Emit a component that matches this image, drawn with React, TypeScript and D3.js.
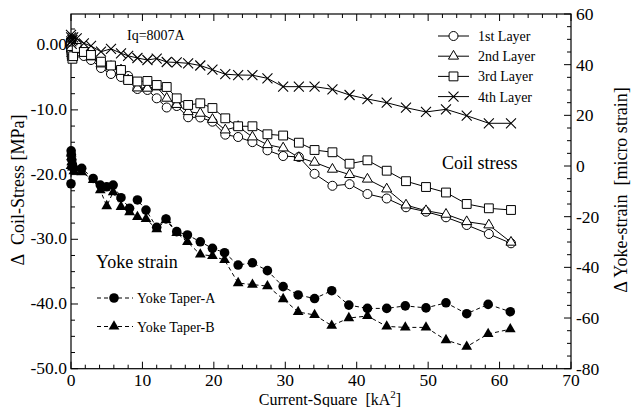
import React from 'react';
import * as d3 from 'd3';

// current squared [kA^2] at each coil-stress reading
const coilX = [0, 0.02, 0.05, 0.1, 0.2, 0.3, 0.8, 1.8, 2.8, 4.2, 5.6, 7.0, 8.0, 9.3, 10.7, 12.0, 13.4, 14.8, 16.4, 18.1, 19.8, 21.6, 23.4, 25.4, 27.5, 29.7, 31.9, 34.1, 36.6, 39.0, 41.5, 44.2, 46.9, 49.7, 52.5, 55.4, 58.5, 61.6];
const layer1 = [0.8, 0.2, -0.4, -1.0, -1.6, -1.2, -1.05, -1.67, -2.29, -3.52, -4.45, -4.91, -4.76, -6.77, -6.92, -8.21, -9.63, -9.40, -11.14, -11.17, -11.82, -13.83, -14.19, -14.98, -16.25, -17.13, -17.28, -19.88, -21.73, -21.48, -23.0, -23.69, -25.05, -25.73, -26.60, -27.79, -29.18, -30.62];
const layer2 = [0.6, 0.0, -0.6, -1.3, -1.9, -1.5, -0.74, -1.21, -1.82, -2.91, -3.29, -3.83, -5.38, -6.62, -6.66, -6.46, -8.21, -9.17, -10.28, -10.53, -11.48, -13.11, -12.57, -14.19, -15.38, -15.89, -17.36, -18.10, -19.18, -20.0, -20.71, -22.23, -24.71, -25.58, -26.14, -27.28, -27.79, -30.46];
const layer3 = [0.4, -0.2, -0.8, -1.5, -2.1, -1.7, -0.43, -1.05, -1.51, -2.55, -3.14, -3.83, -5.38, -5.61, -5.53, -6.15, -6.46, -8.21, -9.24, -8.98, -9.71, -11.30, -12.53, -12.53, -13.77, -13.96, -15.07, -16.20, -16.55, -18.32, -17.79, -19.40, -21.02, -21.92, -22.77, -24.54, -25.21, -25.47];
const layer4 = [1.6, 1.2, 0.6, 0.2, 0.8, 1.2, 1.04, 0.29, -0.12, -1.01, -0.56, -1.25, -1.64, -1.98, -2.29, -2.06, -2.60, -2.67, -2.80, -3.14, -3.79, -4.48, -4.61, -4.64, -5.12, -6.41, -6.41, -6.41, -6.82, -7.70, -8.32, -8.89, -9.66, -10.32, -9.91, -10.90, -12.07, -12.07];

// yoke strain readings [micro strain], right axis
const yokeX = [0, 0.02, 0.05, 0.1, 0.2, 0.4, 1.5, 3.1, 4.1, 5.0, 5.9, 7.0, 8.2, 9.3, 10.5, 12.0, 13.3, 14.8, 16.3, 18.1, 19.8, 21.5, 23.4, 25.4, 27.5, 29.7, 31.8, 34.1, 36.5, 38.9, 41.5, 44.2, 46.8, 49.7, 52.5, 55.4, 58.4, 61.5];
const taperA = [-7, 6, 4.5, 2.5, 0.5, -1, -0.9, -4.9, -7.5, -8.2, -7.5, -12.5, -16.7, -13.4, -17.4, -24.2, -20.9, -25.9, -27.2, -29.9, -32.5, -34.2, -39.1, -38.2, -41.3, -47.6, -50.9, -52.3, -49.2, -54.9, -56.2, -56.2, -55.2, -56.0, -54.0, -58.3, -54.6, -57.5];
const taperB = [0, 5, 3.5, 1.5, -0.5, -2, -2.4, -5.5, -9.5, -15.8, -10.3, -16.1, -18.2, -20.1, -20.9, -24.9, -21.3, -26.4, -30.0, -34.9, -35.5, -37.1, -46.2, -46.8, -47.4, -52.5, -57.6, -58.8, -63.0, -60.0, -59.2, -63.3, -63.7, -63.7, -68.7, -71.3, -66.3, -64.4];

const xTicks = [0, 10, 20, 30, 40, 50, 60, 70];
const leftTicks = [0, -10, -20, -30, -40, -50];
const leftTickLabels = ['0.00', '-10.0', '-20.0', '-30.0', '-40.0', '-50.0'];
const rightTicks = [60, 40, 20, 0, -20, -40, -60, -80];

const W = 640, H = 407;
const L = 71, R = 571, T = 14, B = 368.7;
const FONT = '"Liberation Serif", "Times New Roman", serif';

type Marker = 'circle' | 'triangle' | 'square' | 'times' | 'dot' | 'tri';

const symPath = (m: Marker) => {
  switch (m) {
    case 'circle': return d3.symbol(d3.symbolCircle, 64)();
    case 'dot': return d3.symbol(d3.symbolCircle, 72)();
    case 'triangle': return d3.symbol(d3.symbolTriangle, 44)();
    case 'tri': return d3.symbol(d3.symbolTriangle, 50)();
    case 'square': return d3.symbol(d3.symbolSquare, 78)();
    default: return 'M-5,-5L5,5M-5,5L5,-5';
  }
};

const markStyle = (m: Marker) => {
  if (m === 'dot' || m === 'tri') return { fill: '#000', stroke: 'none' };
  if (m === 'times') return { fill: 'none', stroke: '#000', strokeWidth: 1.1 };
  return { fill: '#fff', stroke: '#000', strokeWidth: 1 };
};

export default function App() {
  const x = d3.scaleLinear().domain([0, 70]).range([L, R]);
  const yL = d3.scaleLinear().domain([-50, 4.82]).range([B, T]);
  const yR = d3.scaleLinear().domain([-80, 60]).range([B, T]);

  const coilSeries: { data: number[]; m: Marker }[] = [
    { data: layer1, m: 'circle' },
    { data: layer2, m: 'triangle' },
    { data: layer3, m: 'square' },
    { data: layer4, m: 'times' },
  ];
  const yokeSeries: { data: number[]; m: Marker }[] = [
    { data: taperA, m: 'dot' },
    { data: taperB, m: 'tri' },
  ];

  const coilLine = (vals: number[]) =>
    d3.line<number>().x((_, i) => x(coilX[i])).y(d => yL(d))(vals) || '';
  const yokeLine = (vals: number[]) =>
    d3.line<number>().x((_, i) => x(yokeX[i])).y(d => yR(d))(vals) || '';

  const xMinor = d3.range(0, 70.01, 2);
  const leftMinor = d3.range(-50, 4.8, 2.5);
  const rightMinor = d3.range(-80, 60.01, 5);

  const legendTop = [
    { label: '1st Layer', m: 'circle' as Marker },
    { label: '2nd Layer', m: 'triangle' as Marker },
    { label: '3rd Layer', m: 'square' as Marker },
    { label: '4th Layer', m: 'times' as Marker },
  ];
  const legendBottom = [
    { label: 'Yoke Taper-A', m: 'dot' as Marker },
    { label: 'Yoke Taper-B', m: 'tri' as Marker },
  ];

  return (
    <svg width={W} height={H} style={{ position: 'absolute', left: 0, top: 0, background: '#fff' }}
      fontFamily={FONT}>
      <rect x={0} y={0} width={W} height={H} fill="#fff" />

      {/* minor + major ticks, inward */}
      <g stroke="#000" strokeWidth={1}>
        {xMinor.map(v => {
          const major = v % 10 === 0;
          const len = major ? 7 : 4;
          return (
            <g key={'x' + v}>
              <line x1={x(v)} x2={x(v)} y1={B} y2={B - len} />
              <line x1={x(v)} x2={x(v)} y1={T} y2={T + len} />
            </g>
          );
        })}
        {leftMinor.map(v => {
          const major = v % 10 === 0;
          return <line key={'l' + v} x1={L} x2={L + (major ? 7 : 4)} y1={yL(v)} y2={yL(v)} />;
        })}
        {rightMinor.map(v => {
          const major = v % 20 === 0;
          return <line key={'r' + v} x1={R} x2={R - (major ? 7 : 4)} y1={yR(v)} y2={yR(v)} />;
        })}
      </g>

      <rect x={L} y={T} width={R - L} height={B - T} fill="none" stroke="#000" strokeWidth={1.2} />

      {/* tick labels */}
      <g fontSize={17.5} fill="#000">
        {xTicks.map(v => (
          <text key={'xt' + v} x={x(v)} y={385.5} textAnchor="middle">{v}</text>
        ))}
        {leftTicks.map((v, i) => (
          <text key={'lt' + v} x={67} y={yL(v) + 5} textAnchor="end">{leftTickLabels[i]}</text>
        ))}
        {rightTicks.map(v => (
          <text key={'rt' + v} x={576} y={yR(v) + 6} textAnchor="start">{v}</text>
        ))}
      </g>

      {/* axis titles */}
      <text x={330} y={405} textAnchor="middle" fontSize={16}>
        Current-Square{'\u00a0\u00a0'}[kA<tspan dy={-7} fontSize={11}>2</tspan><tspan dy={7}>]</tspan>
      </text>
      <text transform={`translate(24,190) rotate(-90)`} textAnchor="middle" fontSize={18}>
        {'\u0394\u00a0\u00a0Coil-Stress [MPa]'}
      </text>
      <text transform={`translate(627,190) rotate(-90)`} textAnchor="middle" fontSize={18}>
        {'\u0394 Yoke-strain\u00a0\u00a0[micro strain]'}
      </text>

      {/* coil stress lines & markers */}
      {coilSeries.map((s, k) => (
        <path key={'cl' + k} d={coilLine(s.data)} fill="none" stroke="#000" strokeWidth={1} />
      ))}
      {coilSeries.map((s, k) => (
        <g key={'cm' + k}>
          {s.data.map((v, i) => (
            <path key={i} d={symPath(s.m)} transform={`translate(${x(coilX[i])},${yL(v)})`} {...markStyle(s.m)} />
          ))}
        </g>
      ))}

      {/* yoke strain */}
      {yokeSeries.map((s, k) => (
        <path key={'yl' + k} d={yokeLine(s.data)} fill="none" stroke="#000" strokeWidth={1} strokeDasharray="4,3" />
      ))}
      {yokeSeries.map((s, k) => (
        <g key={'ym' + k}>
          {s.data.map((v, i) => (
            <path key={i} d={symPath(s.m)} transform={`translate(${x(yokeX[i])},${yR(v)})`} {...markStyle(s.m)} />
          ))}
        </g>
      ))}

      {/* annotations */}
      <text x={127} y={40} fontSize={14}>Iq=8007A</text>
      <text x={442} y={169} fontSize={18}>Coil stress</text>
      <text x={96} y={268} fontSize={18}>Yoke strain</text>

      {/* legend, top right */}
      {legendTop.map((d, i) => {
        const cy = 36 + i * 20.2;
        return (
          <g key={'lg' + i}>
            <line x1={438} x2={469} y1={cy} y2={cy} stroke="#000" strokeWidth={1} />
            <path d={symPath(d.m)} transform={`translate(453.5,${cy})`} {...markStyle(d.m)} />
            <text x={478} y={cy + 5} fontSize={14}>{d.label}</text>
          </g>
        );
      })}

      {/* legend, bottom left */}
      {legendBottom.map((d, i) => {
        const cy = 298 + i * 28.5;
        return (
          <g key={'lb' + i}>
            <line x1={97} x2={133} y1={cy} y2={cy} stroke="#000" strokeWidth={1} strokeDasharray="4,3" />
            <path d={symPath(d.m)} transform={`translate(114,${cy})`} {...markStyle(d.m)} />
            <text x={137} y={cy + 5} fontSize={14}>{d.label}</text>
          </g>
        );
      })}
    </svg>
  );
}
